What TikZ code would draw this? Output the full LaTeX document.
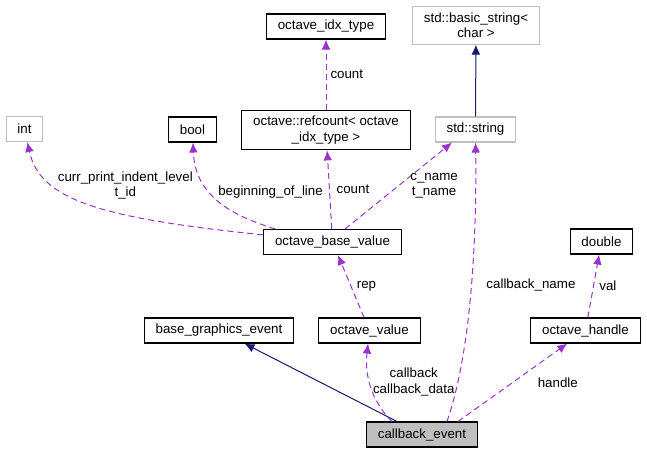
\documentclass[tikz,border=0pt]{standalone}
\usepackage{fontspec}
\setmainfont{Liberation Sans}
\usetikzlibrary{arrows.meta,positioning}
\definecolor{usepurple}{RGB}{154,50,205}
\definecolor{inhnavy}{RGB}{25,25,112}
\definecolor{extgray}{RGB}{191,191,191}
\definecolor{focusgray}{RGB}{191,191,191}

\begin{document}
\begin{tikzpicture}[x=0.75pt, y=-0.75pt,
  cls/.style={draw, rectangle, line width=0.8pt, minimum height=18.75pt, inner xsep=8.5pt, inner ysep=4.5pt, align=center, font=\fontsize{10}{11.5}\selectfont},
  ext/.style={cls, draw=extgray},
  lbl/.style={inner sep=1pt, align=center, text=black, font=\fontsize{10}{11.5}\selectfont},
  usearr/.style={-{Latex[length=7.5pt, width=6.5pt]}, usepurple, line width=0.75pt, dash pattern=on 4.5pt off 3pt},
  inharr/.style={-{Latex[length=7.5pt, width=6.5pt]}, inhnavy, line width=0.75pt}
]
\useasboundingbox (0,0) rectangle (647,453);
\node[cls] (idx) at (326,26.5) {octave\_idx\_type};
\node[ext] (bstr) at (476,25.5) {std::basic\_string<\\char >};
\node[ext] (int) at (24.5,129) {int};
\node[cls] (bool) at (192.5,129.5) {bool};
\node[cls] (rc) at (326,130) {octave::refcount< octave\\\_idx\_type >};
\node[ext] (str) at (475.5,129.5) {std::string};
\node[cls] (base) at (332.5,242) {octave\_base\_value};
\node[cls] (dbl) at (601.5,241.5) {double};
\node[cls] (bge) at (219,330.5) {base\_graphics\_event};
\node[cls] (oval) at (369.5,330.5) {octave\_value};
\node[cls] (ohd) at (585.5,330.5) {octave\_handle};
\node[cls, fill=focusgray] (cbe) at (422,434.5) {callback\_event};
% inheritance
\draw[inharr] (str) -- (bstr);
\draw[inharr] ([xshift=-18.75pt]cbe.north) -- (bge);
% usage
\draw[usearr] (rc) -- node[lbl, right=2pt] {count} (idx);
\draw[usearr] (base) .. controls (100,218) and (40,200) .. (int)
  node[lbl, pos=0.4, above=8pt, xshift=9pt] {curr\_print\_indent\_level\\t\_id};
\draw[usearr] ([xshift=-43pt]base.north) .. controls (230,215) and (195,195) .. (bool)
  node[lbl, pos=0.6, right=5pt] {beginning\_of\_line};
\draw[usearr] (base) -- node[lbl, right=4pt] {count} (rc);
\draw[usearr] ([xshift=9.4pt]base.north) -- node[lbl, right=7.5pt] {c\_name\\t\_name} ([xshift=-17.6pt]str.south);
\draw[usearr] (oval) -- node[lbl, right=3pt] {rep} (base);
\draw[usearr] (ohd) -- node[lbl, right=3pt] {val} (dbl);
\draw[usearr] ([xshift=18.75pt]cbe.north) .. controls (465,370) and (477,280) .. (str)
  node[lbl, pos=0.6, right=10pt] {callback\_name};
\draw[usearr] ([xshift=-22.5pt]cbe.north) .. controls (375,405) and (364,380) .. (oval)
  node[lbl, pos=0.6, right=1pt] {callback\\callback\_data};
\draw[usearr] ([xshift=27pt]cbe.north) -- node[lbl, right=17.5pt] {handle} (ohd);
\end{tikzpicture}
\end{document}
